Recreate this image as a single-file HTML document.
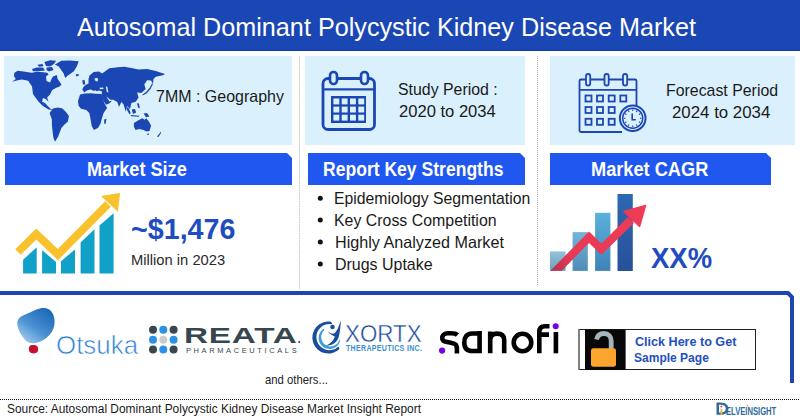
<!DOCTYPE html>
<html><head><meta charset="utf-8"><style>
html,body{margin:0;padding:0;}
body{width:800px;height:420px;position:relative;overflow:hidden;background:#fff;font-family:"Liberation Sans",sans-serif;}
.t{position:absolute;white-space:nowrap;transform-origin:0 0;}
svg{position:absolute;left:0;top:0;}
</style></head><body>
<svg width="800" height="420" viewBox="0 0 800 420">
<defs>
 <linearGradient id="gb1" x1="0" y1="0" x2="0" y2="1"><stop offset="0" stop-color="#93c3d9"/><stop offset="1" stop-color="#6a9fc0"/></linearGradient>
 <linearGradient id="gb2" x1="0" y1="0" x2="0" y2="1"><stop offset="0" stop-color="#72b6d8"/><stop offset="1" stop-color="#4f8bb8"/></linearGradient>
 <linearGradient id="gb3" x1="0" y1="0" x2="0" y2="1"><stop offset="0" stop-color="#5ab2dc"/><stop offset="1" stop-color="#3f83b6"/></linearGradient>
 <linearGradient id="gb4" x1="0" y1="0" x2="0" y2="1"><stop offset="0" stop-color="#2f67b2"/><stop offset="1" stop-color="#27519a"/></linearGradient>
 <linearGradient id="gred" x1="0" y1="1" x2="1" y2="0"><stop offset="0" stop-color="#b8304a"/><stop offset="0.25" stop-color="#e63a55"/><stop offset="1" stop-color="#ef3b55"/></linearGradient>
 <linearGradient id="gots" x1="0.9" y1="0.1" x2="0.2" y2="1"><stop offset="0" stop-color="#1a68b6"/><stop offset="0.55" stop-color="#4b90d2"/><stop offset="1" stop-color="#a6cdf0"/></linearGradient>
</defs>
<!-- header -->
<rect x="0" y="0" width="800" height="51" fill="#1b47b4"/>
<rect x="0" y="49.6" width="800" height="1.2" fill="#1240b0"/>
<!-- light panels -->
<rect x="4" y="56" width="288" height="89" fill="#daf0fd"/>
<rect x="305" y="56" width="220" height="89" fill="#daf0fd"/>
<rect x="550" y="56" width="245" height="89" fill="#daf0fd"/>
<!-- blue bars with chamfer -->
<path d="M5 153 H287 L292 158 V185 H5 Z" fill="#1f57ef"/>
<path d="M308 153 H520 L525 158 V185 H308 Z" fill="#1f57ef"/>
<path d="M550 153 H766 L771 158 V185 H550 Z" fill="#1f57ef"/>
<!-- dotted separators -->
<line x1="299.5" y1="56" x2="299.5" y2="289" stroke="#c8c8c8" stroke-width="1" stroke-dasharray="1.5 0.8"/>
<line x1="537.6" y1="56" x2="537.6" y2="286" stroke="#aaaaaa" stroke-width="1" stroke-dasharray="1 1"/>
<!-- bottom frame -->
<path d="M0 293 H788 L792 297 V383" fill="none" stroke="#1b47b4" stroke-width="4" stroke-linejoin="miter"/>
<!-- footer dotted -->
<line x1="0" y1="399.5" x2="800" y2="399.5" stroke="#111" stroke-width="1" stroke-dasharray="1 1"/>

<!-- world map -->
<g fill="#1b47b4">
 <path d="M12 81.7 L15.8 78.9 L13.9 76 L14.4 72.7 L17.7 70.8 L25.3 71.7 L28.2 72.2 L32 72.7 L36.8 71.7 L43.4 72.2 L47.2 72.7 L48.5 74.5 L46 76.5 L46.5 81 L50 82.5 L51.5 79 L53 76.5 L56.8 75 L57.7 78.9 L61.5 84.6 L59.6 86.5 L55.7 88.1 L52.1 90.3 L50 94.6 L47.1 97.4 L48.6 101.7 L45.7 98.9 L42.9 98.1 L42.1 101.7 L45 103.1 L47.1 105.3 L50.7 108.9 L52.9 110.3 L48.6 109.6 L42.9 106 L38.6 101.7 L34.3 96 L33 94 L32 86.5 L28.2 80.8 L22 79.5 L17.7 80.3 Z"/>
 <path d="M44.4 62 L50 60.3 L56 60.8 L54 64 L50 66.5 L46 66 Z"/>
 <path d="M32 69 L37 67.4 L43 67.6 L45 70.5 L38 71.2 L33 71.2 Z"/>
 <path d="M37.5 64.8 L42.5 64 L43.5 66.3 L39 66.8 Z"/>
 <path d="M46.5 67.5 L52 67 L53.5 70 L49 71.5 L46.5 70 Z"/>
 <path d="M54.9 64.6 L61.5 60.8 L70 60.5 L78.7 61.2 L76.8 66.5 L73.9 71.2 L67.2 76 L65.3 77.9 L63.4 73.1 L58.7 66.5 Z"/>
 <path d="M75.8 74.3 L78.7 74 L78.5 76 L76 76.2 Z"/>
 <path d="M52.9 108.6 L58 107.5 L62.5 108.6 L66 112 L68.9 116 L67.9 121.4 L64 125 L61.4 127.9 L58.2 136.4 L55 141.8 L53.5 138 L52.9 134.3 L52 126 L51.8 119.3 L49.6 112.9 Z"/>
 <path d="M82.2 80.5 L84.5 79.8 L85.3 84.5 L83 84.6 Z"/>
 <path d="M84.3 92.4 L82.2 89.3 L84.3 86.1 L86.5 84.5 L88.5 83.5 L88.5 79.3 L89.5 75.6 L93.7 72 L99 71.4 L102.1 73.5 L109.4 68.3 L117.8 67.2 L124.3 66.7 L131.4 68.1 L138.6 69.6 L147.1 68.9 L155.7 71 L165 73.9 L162.9 75.3 L155.7 76.7 L153.5 79 L153 83.9 L151 80.5 L147.1 80.3 L144.3 84.6 L145.7 88.9 L141.4 93.1 L137.1 92.4 L138.6 97.4 L135.7 101.7 L131.4 103.1 L130 108.9 L127.1 106 L125.7 111.7 L123.6 104.6 L121.4 102.1 L119 106.9 L117.3 102.1 L113.1 99.8 L110.5 99.7 L106.3 96.6 L109.5 101.5 L111.9 100.5 L110 103 L106 104.8 L103.8 101.5 L101.5 96 L102 91.5 L99 90.6 L97 91.2 L95 90.3 L93.7 91 L91 89.5 L88 90 L85.5 91.6 Z"/>
 <path d="M80.1 94.5 L85 93.5 L91 93.2 L96 93.8 L101.5 94 L104.5 103.5 L107.1 108.1 L103.6 112.9 L101.8 118.8 L100.6 123.6 L98.2 127.7 L94 130.1 L91.7 126 L90.5 118.8 L89.3 112.9 L86.3 109.9 L81 108.7 L78.6 105.7 L78 101 Z"/>
 <path d="M104.2 119.4 L106.5 118.8 L105.4 124.2 L104.2 123.6 Z"/>
 <path d="M133.9 123 L139.3 119.8 L142.5 118.2 L144.7 119.8 L146.3 118.2 L148.9 121.4 L151.1 125.7 L149.5 131.1 L146.3 131.6 L143.6 130 L139.3 128.9 L135.5 130 L133.9 126.8 Z"/>
 <path d="M147.3 133.6 L149 133.8 L148.6 135 L147.4 135 Z"/>
 <path d="M157 136.5 L159.5 133.5 L160.9 131.5 L161 133 L158.5 137 Z"/>
 <path d="M143.6 113.5 L147 113 L149.5 116.5 L146 117.2 Z"/>
 <path d="M131.8 109.5 L135 109.1 L136.1 112.5 L133 114 Z"/>
 <path d="M126.4 106.4 L128.5 108 L130.7 113 L129.5 114.5 L127 110 Z"/>
 <path d="M130.7 115 L139.3 115.8 L139 116.8 L131 116.2 Z"/>
 <path d="M137.1 103.2 L139 103.5 L139.8 108.6 L138 107.5 Z"/>
 <path d="M152 83.5 L153 84 L150.5 89 L146.5 93.5 L142.7 95.5 L142.5 94.5 L146 92 L149.5 88 Z"/>
</g>
<g fill="#daf0fd">
 <path d="M94.5 78.5 L97 77.8 L98.2 79.5 L97.5 81.5 L95.5 81 Z"/>
 <path d="M99.5 87.8 L103 87.6 L103.6 89 L100 89.3 Z"/>
 <path d="M105.8 86.6 L107.3 86.8 L108.4 92.4 L106.8 92 Z"/>
</g>

<!-- calendar 1 -->
<g fill="none" stroke="#1b47b4">
 <rect x="323" y="78.5" width="51.5" height="51" rx="5" stroke-width="2.8"/>
 <line x1="323" y1="89.3" x2="374.5" y2="89.3" stroke-width="2.2"/>
</g>
<g stroke="#1b47b4" stroke-width="2.6" fill="#daf0fd">
 <rect x="330" y="72" width="7" height="12" rx="3.5"/>
 <rect x="361" y="72" width="7" height="12" rx="3.5"/>
</g>
<rect x="331" y="96" width="35" height="27" fill="#1b47b4"/>
<g fill="#daf0fd">
 <rect x="333.4" y="98.5" width="5.9" height="5.9"/><rect x="341.7" y="98.5" width="5.9" height="5.9"/><rect x="350.0" y="98.5" width="5.9" height="5.9"/><rect x="358.3" y="98.5" width="5.9" height="5.9"/><rect x="333.4" y="106.6" width="5.9" height="5.9"/><rect x="341.7" y="106.6" width="5.9" height="5.9"/><rect x="350.0" y="106.6" width="5.9" height="5.9"/><rect x="358.3" y="106.6" width="5.9" height="5.9"/><rect x="333.4" y="114.7" width="5.9" height="5.9"/><rect x="341.7" y="114.7" width="5.9" height="5.9"/><rect x="350.0" y="114.7" width="5.9" height="5.9"/><rect x="358.3" y="114.7" width="5.9" height="5.9"/>
</g>

<!-- calendar 2 with clock -->
<g fill="none" stroke="#1b47b4" stroke-width="1.8">
 <path d="M622 132 H581 Q579.5 132 579.5 130.5 V81 Q579.5 79.5 581 79.5 H635 Q636.5 79.5 636.5 81 V106"/>
 <line x1="579.5" y1="89.8" x2="636.5" y2="89.8"/>
 <rect x="586" y="74" width="4.2" height="11.5" rx="2.1" fill="#daf0fd"/>
 <rect x="604.5" y="74" width="4.2" height="11.5" rx="2.1" fill="#daf0fd"/>
 <rect x="623" y="74" width="4.2" height="11.5" rx="2.1" fill="#daf0fd"/>
 <rect x="585.5" y="95.5" width="6" height="6"/><rect x="597" y="95.5" width="6" height="6"/><rect x="608.7" y="95.5" width="6" height="6"/><rect x="620.3" y="95.5" width="6" height="6"/>
 <rect x="585.5" y="107" width="6" height="6"/><rect x="597" y="107" width="6" height="6"/><rect x="608.7" y="107" width="6" height="6"/>
 <rect x="585.5" y="118.8" width="6" height="6"/><rect x="597" y="118.8" width="6" height="6"/><rect x="608.7" y="118.8" width="6" height="6"/>
 <circle cx="632.7" cy="118.2" r="12.8" fill="#daf0fd" stroke-width="2"/>
 <circle cx="632.7" cy="118.2" r="10" stroke-width="1.5"/>
 <path d="M632.2 113.5 V119.8 H635.8" stroke-width="1.6"/>
 <path d="M632.70 111.00 L632.70 109.40 M636.30 111.96 L637.10 110.58 M638.94 114.60 L640.32 113.80 M639.90 118.20 L641.50 118.20 M638.94 121.80 L640.32 122.60 M636.30 124.44 L637.10 125.82 M632.70 125.40 L632.70 127.00 M629.10 124.44 L628.30 125.82 M626.46 121.80 L625.08 122.60 M625.50 118.20 L623.90 118.20 M626.46 114.60 L625.08 113.80 M629.10 111.96 L628.30 110.58" stroke-width="1.1"/>
</g>

<!-- market size chart -->
<g fill="#10a0c8">
 <path d="M23.1 273.4 V259.8 L36.7 247.3 V273.4 Z"/>
 <path d="M42.1 273.4 V250.2 L56 262 V273.4 Z"/>
 <path d="M61 273.4 V261.3 L75 249.4 V273.4 Z"/>
 <path d="M80.6 273.4 V242.5 L94.5 229.2 V273.4 Z"/>
 <path d="M99.5 273.4 V225.6 L113.6 213.3 V273.4 Z"/>
</g>
<path d="M18 252 L36.3 234 L57.9 254.6 L108 204" fill="none" stroke="#f9c12b" stroke-width="8" stroke-linejoin="miter" stroke-miterlimit="4"/>
<path d="M100.9 195.9 L120.1 192.9 L117.9 211.7 Z" fill="#f9c12b"/>

<!-- CAGR chart -->
<rect x="550" y="251.4" width="15.6" height="19.5" fill="url(#gb1)"/>
<rect x="572.6" y="232.1" width="15.2" height="38.8" fill="url(#gb2)"/>
<rect x="595.1" y="212.8" width="15.3" height="58.1" fill="url(#gb3)"/>
<rect x="617.5" y="194" width="15.3" height="77" fill="url(#gb4)"/>
<path d="M550.4 270.7 L589 231.5 L601.5 243.5 L628 217 L634 223 L601.5 254.8 L589 242.9 L561.7 270.7 Z" fill="url(#gred)"/>
<path d="M624 211.4 L645.6 205.4 L639.6 226.4 Z" fill="#ef3b55" stroke="#ef3b55" stroke-width="1.5" stroke-linejoin="round"/>

<!-- bullets -->
<g fill="#111">
 <circle cx="320.3" cy="198.2" r="2.5"/>
 <circle cx="320.3" cy="220.1" r="2.5"/>
 <circle cx="320.3" cy="242" r="2.5"/>
 <circle cx="320.3" cy="263.9" r="2.5"/>
</g>

<!-- Otsuka logo -->
<path d="M17.3 324 C17 320 19 317.5 22.5 315.8 L36.5 309.6 C41 307.6 46 307.3 49.5 309.8 C52.8 312.3 54.6 317 54.6 321.5 C54.6 326.5 53 331 49.5 335 C46 339 40.5 342 35.5 343 C30.5 343.8 27 342.3 24.5 339.3 C21 335 17.6 329 17.3 324 Z" fill="url(#gots)"/>
<path d="M31 345.3 C33 344.7 36 345 37.3 346.3 C38.6 348 38.5 351.2 37 352.6 C35 353.8 31.5 353.6 30 352.3 C28.8 351 28.6 348.5 29.2 347 C29.6 346 30.2 345.6 31 345.3 Z" fill="#c8102e"/>

<!-- REATA dots -->
<g>
 <circle cx="153" cy="329.8" r="4" fill="#3a474e"/><circle cx="163.3" cy="329.8" r="4" fill="#2b90e6"/><circle cx="173.6" cy="329.8" r="4" fill="#3a474e"/>
 <circle cx="153" cy="339.7" r="4" fill="#2b90e6"/><circle cx="163.3" cy="339.7" r="4" fill="#c9cdcf"/><circle cx="173.6" cy="339.7" r="4" fill="#2b90e6"/>
 <circle cx="153" cy="349.6" r="4" fill="#3a474e"/><circle cx="163.3" cy="349.6" r="4" fill="#2b90e6"/><circle cx="173.6" cy="349.6" r="4" fill="#3a474e"/>
</g>
<circle cx="299.2" cy="342" r="1.1" fill="#37474f"/>

<!-- XORTX icon -->
<path d="M331 321.8 A16 16 0 1 0 339.5 349 L338.5 346.5 A13.1 13.1 0 1 1 332.5 324.3 Z" fill="#1a4da0"/>
<path d="M323.5 328.8 A11 11 0 1 0 340.3 340.5 L339.6 339.5 A9.35 9.35 0 1 1 324.5 330 Z" fill="#3a9bd9"/>
<circle cx="332.5" cy="327" r="2.3" fill="#1a4da0"/>
<path d="M327.5 331 C329.5 333 332 334 334 333.5 C337 332 339 326 340.8 320.3 C340.8 326 340 331 339 336 C337.5 342 333 345.5 326 345.8 C331 343.5 334 340 334.8 336.5 C333 335.5 330 334.5 327.5 331 Z" fill="#1a4da0"/>

<!-- lock button -->
<rect x="579" y="329.5" width="176.5" height="40" fill="#fff" stroke="#222" stroke-width="1"/>
<rect x="578.5" y="329" width="1.2" height="41" fill="#777"/>
<rect x="585" y="329.5" width="40.6" height="40.5" fill="#080808"/>
<path d="M596.5 339.5 C597.5 335 600.5 333.5 604 333.5 C608.5 333.5 611.2 336.5 611.2 341 V349" fill="none" stroke="#a7b3bb" stroke-width="4.8"/>
<rect x="591" y="348.2" width="25" height="18.5" rx="2.3" fill="#fba52f"/>

<!-- sanofi -->
<g fill="none" stroke="#000" stroke-width="4.6">
 <path d="M457.5 335 C455 332.5 451 333.2 447.5 333.3 C443.5 333.5 442.2 336 442.2 338.2 C442.2 340.5 444 341.5 447 342 C451 342.7 454.5 343 456 345 C457 346.5 457 348.5 456.9 350.5 V353.5"/>
 <path d="M479.6 331 V353.3 M479.6 333.5 H472 C466.5 333.5 464.3 337.5 464.3 342.5 C464.3 347.5 466.5 351 472 351 H479.6"/>
 <path d="M490.2 353.3 V331.5 M490.2 340 C490.2 335.5 493 333.6 497 333.6 C501.5 333.6 504.2 335.5 504.2 340 V353.3"/>
 <circle cx="522.5" cy="342.5" r="8.8"/>
 <path d="M539.3 353.3 V332 C539.3 328 541.5 326.2 545 326.2 H549.5 M537.5 334.6 H549"/>
 <path d="M555.9 332 V353.3"/>
</g>
<circle cx="442.1" cy="350.6" r="3.1" fill="#7a00e6"/>
<circle cx="555.7" cy="326.2" r="3" fill="#7a00e6"/>

<!-- DelveInsight D -->
<path d="M716.5 402.5 H720.5 C726 402.5 728.5 405.5 728.5 408.7 C728.5 412 726 414.8 720.5 414.8 H716.5 Z M719 404.8 V412.5 H720.5 C724 412.5 725.8 411 725.8 408.7 C725.8 406.4 724 404.8 720.5 404.8 Z" fill="#2f6b9c"/>
<rect x="720.5" y="409" width="1.8" height="5.8" fill="#f2b43c"/>
<circle cx="721.4" cy="406.5" r="1" fill="#e8443a"/>
<circle cx="747.5" cy="405.7" r="0.9" fill="#f2a03c"/>
</svg>

<div class="t" style="left:77.22px;top:14.91px;font-size:25.27px;line-height:25.27px;font-weight:400;color:#ffffff;letter-spacing:0.000px;transform:scaleX(0.9973)">Autosomal Dominant Polycystic Kidney Disease Market</div>
<div class="t" style="left:156.33px;top:88.88px;font-size:15.86px;line-height:15.86px;font-weight:400;color:#1a1a1a;letter-spacing:0.000px;transform:scaleX(1.0076)">7MM : Geography</div>
<div class="t" style="left:398.01px;top:81.70px;font-size:15.71px;line-height:15.71px;font-weight:400;color:#1a1a1a;letter-spacing:0.000px;transform:scaleX(1.0114)">Study Period :</div>
<div class="t" style="left:399.27px;top:103.71px;font-size:15.58px;line-height:15.58px;font-weight:400;color:#1a1a1a;letter-spacing:0.000px;transform:scaleX(1.0636)">2020 to 2034</div>
<div class="t" style="left:665.90px;top:82.85px;font-size:16.94px;line-height:16.94px;font-weight:400;color:#1a1a1a;letter-spacing:0.000px;transform:scaleX(0.9374)">Forecast Period</div>
<div class="t" style="left:672.20px;top:103.92px;font-size:17.23px;line-height:17.23px;font-weight:400;color:#1a1a1a;letter-spacing:0.000px;transform:scaleX(0.9778)">2024 to 2034</div>
<div class="t" style="left:86.75px;top:159.87px;font-size:19.64px;line-height:19.64px;font-weight:700;color:#ffffff;letter-spacing:0.000px;transform:scaleX(0.9236)">Market Size</div>
<div class="t" style="left:323.38px;top:159.55px;font-size:19.67px;line-height:19.67px;font-weight:700;color:#ffffff;letter-spacing:0.000px;transform:scaleX(0.8930)">Report Key Strengths</div>
<div class="t" style="left:591.46px;top:159.55px;font-size:19.67px;line-height:19.67px;font-weight:700;color:#ffffff;letter-spacing:0.000px;transform:scaleX(0.9259)">Market CAGR</div>
<div class="t" style="left:130.98px;top:214.90px;font-size:28.95px;line-height:28.95px;font-weight:700;color:#1f4cc0;letter-spacing:0.000px;transform:scaleX(0.9909)">~$1,476</div>
<div class="t" style="left:130.96px;top:252.90px;font-size:14.38px;line-height:14.38px;font-weight:400;color:#2a2a2a;letter-spacing:0.000px;transform:scaleX(1.0244)">Million in 2023</div>
<div class="t" style="left:334.28px;top:190.71px;font-size:15.70px;line-height:15.70px;font-weight:400;color:#1a1a1a;letter-spacing:0.000px;transform:scaleX(1.0048)">Epidemiology Segmentation</div>
<div class="t" style="left:334.23px;top:212.72px;font-size:15.90px;line-height:15.90px;font-weight:400;color:#1a1a1a;letter-spacing:0.000px;transform:scaleX(1.0004)">Key Cross Competition</div>
<div class="t" style="left:334.90px;top:234.68px;font-size:15.66px;line-height:15.66px;font-weight:400;color:#1a1a1a;letter-spacing:0.000px;transform:scaleX(1.0324)">Highly Analyzed Market</div>
<div class="t" style="left:335.09px;top:256.62px;font-size:15.69px;line-height:15.69px;font-weight:400;color:#1a1a1a;letter-spacing:0.000px;transform:scaleX(1.0172)">Drugs Uptake</div>
<div class="t" style="left:650.82px;top:243.71px;font-size:28.58px;line-height:28.58px;font-weight:700;color:#1f4cc0;letter-spacing:0.000px;transform:scaleX(0.9612)">XX%</div>
<div class="t" style="left:634.80px;top:334.85px;font-size:13.09px;line-height:13.09px;font-weight:700;color:#2350c0;letter-spacing:0.000px;transform:scaleX(0.9615)">Click Here to Get</div>
<div class="t" style="left:634.07px;top:350.68px;font-size:13.20px;line-height:13.20px;font-weight:700;color:#2350c0;letter-spacing:0.000px;transform:scaleX(0.9116)">Sample Page</div>
<div class="t" style="left:265.05px;top:373.72px;font-size:12.59px;line-height:12.59px;font-weight:400;color:#222222;letter-spacing:0.000px;transform:scaleX(0.9003)">and others...</div>
<div class="t" style="left:7.33px;top:401.95px;font-size:13.49px;line-height:13.49px;font-weight:400;color:#1a1a1a;letter-spacing:0.000px;transform:scaleX(0.8838)">Source: Autosomal Dominant Polycystic Kidney Disease Market Insight Report</div>
<div class="t" style="-webkit-text-stroke:0.6px #fff;left:55.68px;top:332.85px;font-size:25.22px;line-height:25.22px;font-weight:400;color:#2f80d0;letter-spacing:0.000px;transform:scaleX(1.0267)">Otsuka</div>
<div class="t" style="left:183.76px;top:325.60px;font-size:21.50px;line-height:21.50px;font-weight:700;color:#37474f;letter-spacing:0.499px;transform:scaleX(1.5500)">REATA</div>
<div class="t" style="left:186.01px;top:346.82px;font-size:7.45px;line-height:7.45px;font-weight:400;color:#37474f;letter-spacing:2.645px;transform:scaleX(1.0000)">PHARMACEUTICALS</div>
<div class="t" style="-webkit-text-stroke:0.4px #fff;left:344.75px;top:322.88px;font-size:23.20px;line-height:23.20px;font-weight:400;color:#1a4da0;letter-spacing:0.000px;transform:scaleX(0.9632)">XORTX</div>
<div class="t" style="left:346.31px;top:342.84px;font-size:9.97px;line-height:9.97px;font-weight:700;color:#3a8fd0;letter-spacing:0.516px;transform:scaleX(0.7000)">THERAPEUTICS INC.</div>
<div class="t" style="left:726.16px;top:405.82px;font-size:10.55px;line-height:10.55px;font-weight:700;color:#2f6b9c;letter-spacing:0.000px;transform:scaleX(0.7229)">ELVEINSIGHT</div>
</body></html>
